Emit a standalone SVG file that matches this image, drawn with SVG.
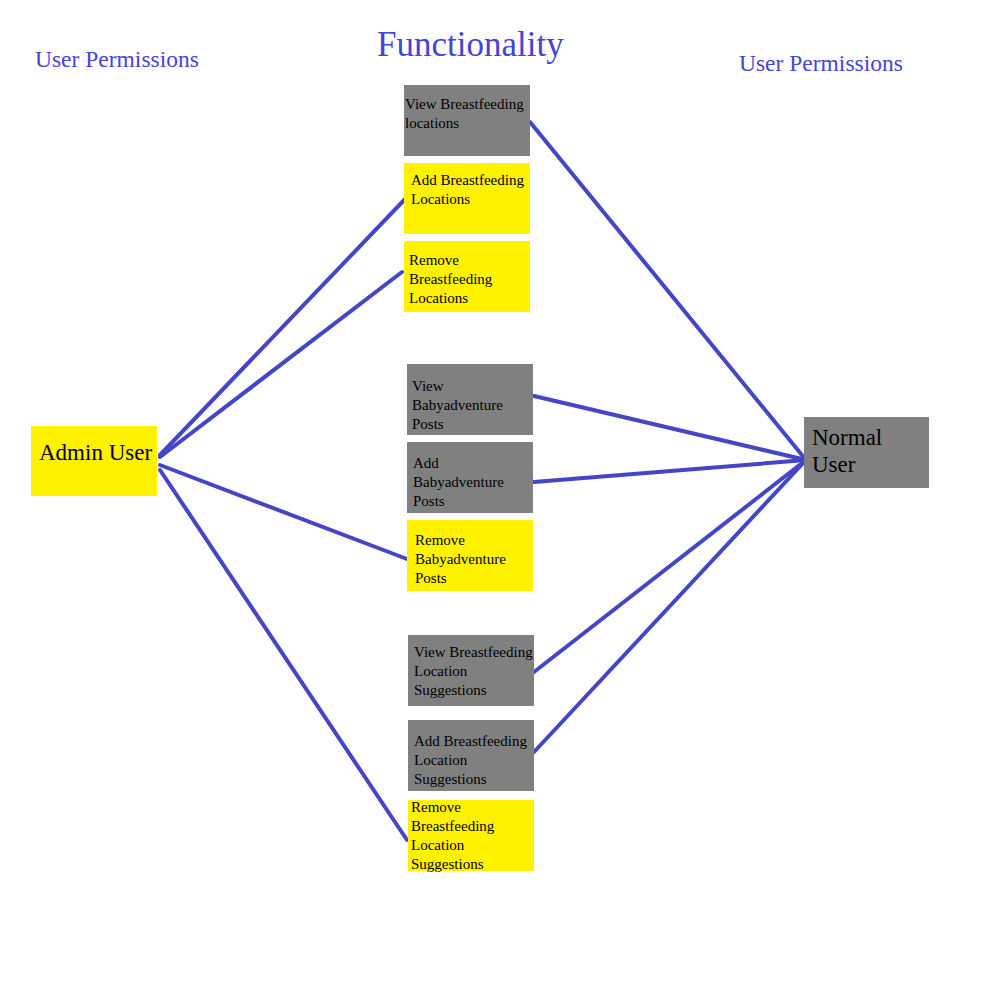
<svg xmlns="http://www.w3.org/2000/svg" width="1000" height="1000" viewBox="0 0 1000 1000">
<style>
.title{font-family:"Liberation Serif","Times New Roman",serif;fill:#4545d5}
.t{font-family:"Liberation Serif","Times New Roman",serif;font-size:15px;fill:#000}
.big{font-family:"Liberation Serif","Times New Roman",serif;font-size:23px;fill:#000}
.g{fill:#808080}
.y{fill:#fff200}
.c line{stroke:#4545c8;stroke-width:4;stroke-linecap:round}
</style>
<rect width="1000" height="1000" fill="#fff"/>
<text class="title" x="35" y="67" font-size="23.5">User Permissions</text>
<text class="title" x="377" y="56" font-size="35">Functionality</text>
<text class="title" x="739" y="71" font-size="23.5">User Permissions</text>
<g class="c" id="connectors">
<line x1="160" y1="455" x2="408" y2="196"/>
<line x1="160" y1="457" x2="402" y2="272"/>
<line x1="160" y1="465" x2="407" y2="559"/>
<line x1="160" y1="470" x2="407" y2="840"/>
<line x1="530" y1="122" x2="806" y2="460"/>
<line x1="534" y1="396" x2="806" y2="460"/>
<line x1="534" y1="482" x2="806" y2="460"/>
<line x1="534" y1="672" x2="806" y2="460"/>
<line x1="534" y1="752" x2="806" y2="460"/>
</g>
<g id="admin"><rect class="y" x="31" y="426" width="126" height="70"/><text class="big" x="39" y="460">Admin User</text></g>
<g id="normal"><rect class="g" x="804" y="417" width="125" height="71"/><text class="big" x="812" y="445">Normal</text><text class="big" x="812" y="472">User</text></g>
<g id="n1"><rect class="g" x="404" y="85" width="126" height="71"/><text class="t" x="405" y="109">View Breastfeeding</text><text class="t" x="405" y="128">locations</text></g>
<g id="n2"><rect class="y" x="404" y="163" width="126" height="71"/><text class="t" x="411" y="185">Add Breastfeeding</text><text class="t" x="411" y="204">Locations</text></g>
<g id="n3"><rect class="y" x="404" y="241" width="126" height="71"/><text class="t" x="409" y="265">Remove</text><text class="t" x="409" y="284">Breastfeeding</text><text class="t" x="409" y="303">Locations</text></g>
<g id="n4"><rect class="g" x="407" y="364" width="126" height="71"/><text class="t" x="412" y="391">View</text><text class="t" x="412" y="410">Babyadventure</text><text class="t" x="412" y="429">Posts</text></g>
<g id="n5"><rect class="g" x="407" y="442" width="126" height="71"/><text class="t" x="413" y="468">Add</text><text class="t" x="413" y="487">Babyadventure</text><text class="t" x="413" y="506">Posts</text></g>
<g id="n6"><rect class="y" x="407" y="520" width="126" height="71"/><text class="t" x="415" y="545">Remove</text><text class="t" x="415" y="564">Babyadventure</text><text class="t" x="415" y="583">Posts</text></g>
<g id="n7"><rect class="g" x="408" y="635" width="126" height="71"/><text class="t" x="414" y="657">View Breastfeeding</text><text class="t" x="414" y="676">Location</text><text class="t" x="414" y="695">Suggestions</text></g>
<g id="n8"><rect class="g" x="408" y="720" width="126" height="71"/><text class="t" x="414" y="746">Add Breastfeeding</text><text class="t" x="414" y="765">Location</text><text class="t" x="414" y="784">Suggestions</text></g>
<g id="n9"><rect class="y" x="408" y="800" width="126" height="71"/><text class="t" x="411" y="812">Remove</text><text class="t" x="411" y="831">Breastfeeding</text><text class="t" x="411" y="850">Location</text><text class="t" x="411" y="869">Suggestions</text></g>
</svg>
